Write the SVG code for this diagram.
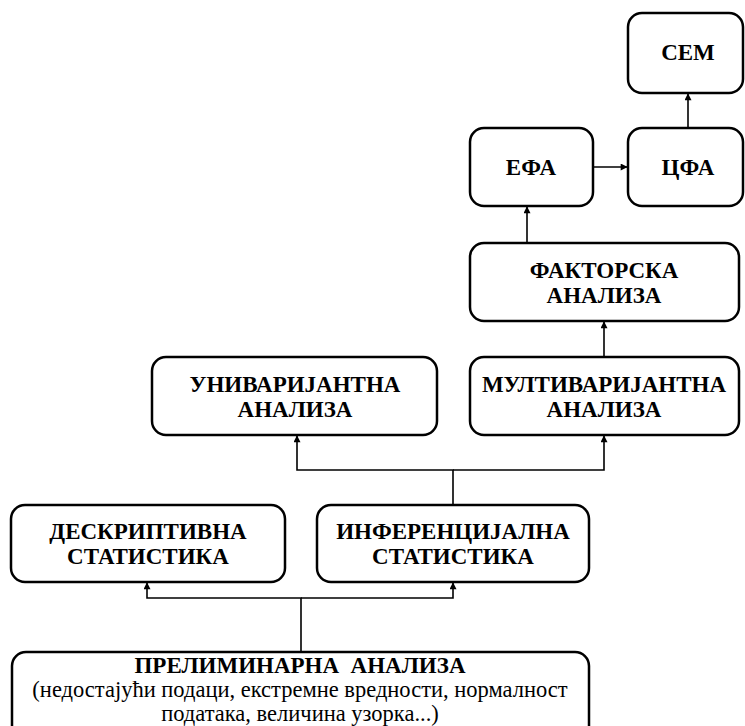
<svg xmlns="http://www.w3.org/2000/svg" width="745" height="726" viewBox="0 0 745 726">
  <style>
    .box { fill: #ffffff; stroke: #000000; stroke-width: 2.5; }
    .t { font-family: "Liberation Serif", "DejaVu Serif", serif; font-size: 22.5px; fill: #000000; text-anchor: middle; }
    .b { font-weight: bold; font-size: 23px; }
    .pre { white-space: pre; }
    .link { fill: none; stroke: #000000; stroke-width: 1.6; }
  </style>
  <defs>
    <marker id="arrow" viewBox="0 0 10 10" refX="9" refY="5" markerWidth="8" markerHeight="7" orient="auto" markerUnits="userSpaceOnUse">
      <path d="M0,0 L10,5 L0,10 z" fill="#000000"/>
    </marker>
  </defs>
  <rect width="745" height="726" fill="#ffffff"/>

  <!-- connectors -->
  <g id="connectors">
    <path class="link" d="M301,652 V598 H147 V583" marker-end="url(#arrow)"/>
    <path class="link" d="M301,598 H453 V583" marker-end="url(#arrow)"/>
    <path class="link" d="M453,505 V470 H297 V436" marker-end="url(#arrow)"/>
    <path class="link" d="M453,470 H604 V436" marker-end="url(#arrow)"/>
    <path class="link" d="M604,357 V322" marker-end="url(#arrow)"/>
    <path class="link" d="M527,243 V207" marker-end="url(#arrow)"/>
    <path class="link" d="M593,167 H627" marker-end="url(#arrow)"/>
    <path class="link" d="M688,128 V94" marker-end="url(#arrow)"/>
  </g>

  <g id="preliminarna">
    <rect class="box" x="12" y="652" width="577" height="90" rx="14"/>
    <text class="t b pre" x="300" y="673">ПРЕЛИМИНАРНА  АНАЛИЗА</text>
    <text class="t" x="300" y="697">(недостајући подаци, екстремне вредности, нормалност</text>
    <text class="t" x="300" y="721">података, величина узорка...)</text>
  </g>

  <g id="deskriptivna">
    <rect class="box" x="11" y="505" width="274" height="77" rx="14"/>
    <text class="t b" x="148" y="539">ДЕСКРИПТИВНА</text>
    <text class="t b" x="148" y="564">СТАТИСТИКА</text>
  </g>

  <g id="inferencijalna">
    <rect class="box" x="317" y="505" width="272" height="77" rx="14"/>
    <text class="t b" x="453" y="539">ИНФЕРЕНЦИЈАЛНА</text>
    <text class="t b" x="453" y="564">СТАТИСТИКА</text>
  </g>

  <g id="univarijantna">
    <rect class="box" x="152" y="357" width="285" height="78" rx="14"/>
    <text class="t b" x="295" y="392">УНИВАРИЈАНТНА</text>
    <text class="t b" x="295" y="417">АНАЛИЗА</text>
  </g>

  <g id="multivarijantna">
    <rect class="box" x="470" y="357" width="269" height="78" rx="14"/>
    <text class="t b" x="604" y="392">МУЛТИВАРИЈАНТНА</text>
    <text class="t b" x="604" y="417">АНАЛИЗА</text>
  </g>

  <g id="faktorska">
    <rect class="box" x="470" y="243" width="269" height="78" rx="14"/>
    <text class="t b" x="604" y="278">ФАКТОРСКА</text>
    <text class="t b" x="604" y="303">АНАЛИЗА</text>
  </g>

  <g id="efa">
    <rect class="box" x="470" y="128" width="123" height="78" rx="14"/>
    <text class="t b" x="531" y="175">ЕФА</text>
  </g>

  <g id="cfa">
    <rect class="box" x="628" y="128" width="115" height="78" rx="14"/>
    <text class="t b" x="688" y="175">ЦФА</text>
  </g>

  <g id="sem">
    <rect class="box" x="628" y="13" width="115" height="80" rx="14"/>
    <text class="t b" x="688" y="60">СЕМ</text>
  </g>
</svg>
